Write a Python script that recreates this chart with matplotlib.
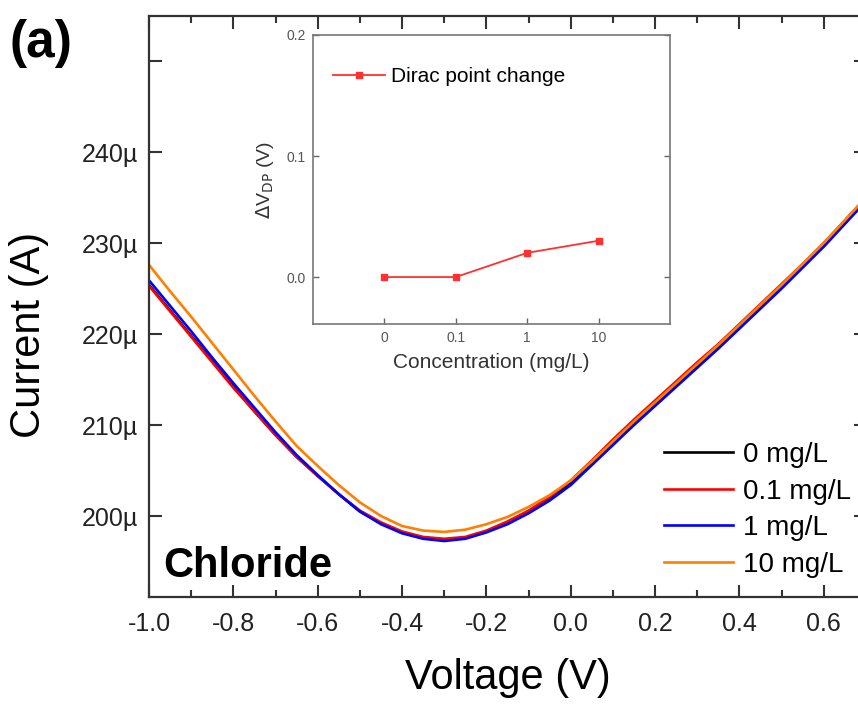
import matplotlib
matplotlib.use("Agg")
import matplotlib.pyplot as plt
from matplotlib.ticker import MultipleLocator, FuncFormatter

plt.rcParams['font.family'] = ['Liberation Sans', 'DejaVu Sans']

# gate voltage sweep (V)
voltage = [-1.00, -0.95, -0.90, -0.85, -0.80, -0.75, -0.70, -0.65, -0.60, -0.55,
           -0.50, -0.45, -0.40, -0.35, -0.30, -0.25, -0.20, -0.15, -0.10, -0.05,
           0.00, 0.05, 0.10, 0.15, 0.20, 0.25, 0.30, 0.35, 0.40, 0.45,
           0.50, 0.55, 0.60, 0.65, 0.70]

# drain current in microamps, one list per chloride concentration
i_0 = [225.4, 222.6, 219.8, 217.0, 214.2, 211.5, 208.9, 206.5, 204.4, 202.4,
       200.5, 199.2, 198.2, 197.6, 197.4, 197.6, 198.3, 199.3, 200.5, 201.9,
       203.7, 205.9, 208.1, 210.3, 212.4, 214.5, 216.6, 218.7, 220.9, 223.1,
       225.3, 227.6, 229.9, 232.4, 234.9]
i_01 = [225.3, 222.5, 219.7, 216.9, 214.1, 211.5, 208.9, 206.5, 204.4, 202.4,
        200.6, 199.3, 198.3, 197.7, 197.5, 197.7, 198.4, 199.4, 200.6, 202.1,
        203.9, 206.1, 208.4, 210.6, 212.7, 214.8, 216.9, 218.9, 221.1, 223.3,
        225.5, 227.7, 230.0, 232.5, 235.0]
i_1 = [225.9, 223.1, 220.3, 217.4, 214.6, 211.9, 209.2, 206.7, 204.5, 202.4,
       200.5, 199.1, 198.1, 197.5, 197.25, 197.5, 198.2, 199.1, 200.3, 201.7,
       203.4, 205.6, 207.8, 210.0, 212.1, 214.2, 216.3, 218.4, 220.6, 222.8,
       225.0, 227.3, 229.6, 232.1, 234.6]
i_10 = [227.6, 224.7, 221.9, 219.0, 216.1, 213.2, 210.4, 207.7, 205.5, 203.4,
        201.5, 200.0, 198.9, 198.4, 198.25, 198.5, 199.1, 199.9, 201.0, 202.3,
        203.9, 206.0, 208.2, 210.4, 212.5, 214.6, 216.7, 218.8, 221.0, 223.2,
        225.4, 227.7, 230.0, 232.5, 235.0]

series_labels = ['0 mg/L', '0.1 mg/L', '1 mg/L', '10 mg/L']
series_colors = ['#000000', '#ff0000', '#0000ff', '#ff8000']

# inset: Dirac point shift
conc_labels = ['0', '0.1', '1', '10']
dirac_shift = [0.0, 0.0, 0.02, 0.03]

fig = plt.figure(figsize=(8.58, 7.05), dpi=100)
W, H = 858, 705

# main axes (right edge runs slightly off the canvas like the original crop)
ax = fig.add_axes([149 / W, 1 - 597 / H, (866 - 149) / W, (597 - 16) / H])
for y, lab, col in zip([i_0, i_01, i_1, i_10], series_labels, series_colors):
    ax.plot(voltage, y, color=col, lw=1.9, label=lab)

ax.set_xlim(-1.0, 0.7)
ax.set_ylim(191.1, 254.95)
ax.xaxis.set_major_locator(MultipleLocator(0.2))
ax.xaxis.set_minor_locator(MultipleLocator(0.1))
ax.set_yticks([200, 210, 220, 230, 240, 250])
ax.yaxis.set_major_formatter(FuncFormatter(lambda v, p: '' if v > 245 else f'{v:.0f}µ'))
ax.xaxis.set_major_formatter(FuncFormatter(lambda v, p: f'{v:.1f}'))
ax.tick_params(which='both', direction='in', top=True, right=True, color='#333333',
               width=1.5, labelsize=18, labelcolor='#222222')
ax.tick_params(which='major', length=9)
ax.tick_params(which='minor', length=5)
ax.tick_params(axis='x', pad=11)
ax.tick_params(axis='y', pad=8)
for s in ax.spines.values():
    s.set_linewidth(1.6)
    s.set_color('#333333')

ax.set_xlabel('Voltage (V)', fontsize=30)
ax.set_ylabel('Current (A)', fontsize=30)
ax.xaxis.set_label_coords(0.5007, -0.105)
ax.yaxis.set_label_coords(-0.139, 0.451)

ax.legend(loc='upper left', bbox_to_anchor=(664 / W, 1 - 442 / H),
          bbox_transform=fig.transFigure, frameon=False, fontsize=20,
          handlelength=2.5, handletextpad=0.35, labelspacing=0.38,
          borderpad=0, borderaxespad=0)

fig.text(163 / W, 1 - 577 / H, 'Chloride', fontsize=30, fontweight='bold',
         va='baseline', ha='left')
fig.text(10 / W, 1 - 43 / H, '(a)', fontsize=37, fontweight='bold',
         va='center', ha='left')

# inset
axi = fig.add_axes([313 / W, 1 - 324 / H, (670 - 313) / W, (324 - 35) / H])
axi.plot(range(len(dirac_shift)), dirac_shift, color='#ff3030', lw=1.3,
         marker='s', ms=4, label='Dirac point change')
axi.set_xlim(-1, 4)
axi.set_ylim(-0.0388, 0.2)
axi.set_xticks(range(len(conc_labels)))
axi.set_xticklabels(conc_labels)
axi.set_yticks([0.0, 0.1, 0.2])
axi.set_yticklabels(['0.0', '0.1', '0.2'])
axi.tick_params(direction='in', right=True, top=False, length=4, width=1,
                color='#666666', labelsize=10, labelcolor='#555555', pad=5)
for s in axi.spines.values():
    s.set_linewidth(1.2)
    s.set_color('#777777')
axi.set_xlabel('Concentration (mg/L)', fontsize=15, color='#333333', labelpad=6)
axi.set_ylabel(r'$\Delta$V$_{\rm DP}$ (V)', fontsize=14, color='#333333', labelpad=8)
axi.legend(loc='center left', bbox_to_anchor=(333 / W, 1 - 77 / H),
           bbox_transform=fig.transFigure, frameon=False, fontsize=15,
           handlelength=2.5, handletextpad=0.3, borderpad=0, borderaxespad=0)

fig.savefig('out.png', dpi=100)
